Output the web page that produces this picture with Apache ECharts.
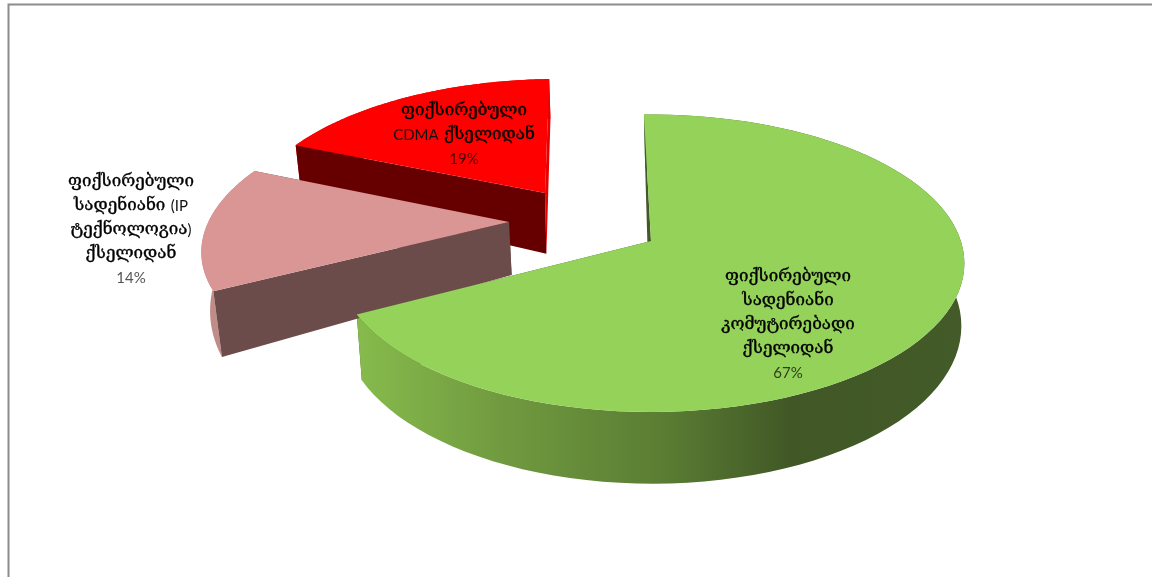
<!DOCTYPE html>
<html><head><meta charset="utf-8">
<style>html,body{margin:0;padding:0;background:#fff}#c{width:1152px;height:577px}</style>
<script src="https://cdn.jsdelivr.net/npm/echarts@6/dist/echarts.min.js"></script>
</head><body><div id="c"></div>
<script>
// data
var names = [
  "ფიქსირებული\nსადენიანი\nკომუტირებადი\nქსელიდან",
  "ფიქსირებული\nსადენიანი (IP\nტექნოლოგია)\nქსელიდან",
  "ფიქსირებული\nCDMA ქსელიდან"
];
var values = [67, 14, 19];
// style and layout
var topColors = ["#94d25a", "#d99694", "#ff0000"];
var wallColors = ["#44592a", "#6b4c4a", "#660000"];
var outerColors = [null, "#c08c88", "#e60000"];
var labelAnchors = [[788, 265], [131, 170], [464, 99]];
var percentColors = ["#2f3d1c", "#555555", "#4a0000"];
var worldOffsets = [[0, 0], [-0.465, 0.133], [-0.358, 0.346]];
var radii = [0.995, 0.985, 0.985];
var angleNudge = [[-1.5, 0.8], [1, 1.3], [1.2, -2]];
var depthA = [47, 11.7, 25], depthS = [0.06, 0.186, 0.186];
var perspX = [738, 640, 620], perspF = [0.0133, 0.02, 0.018], innerShift = [-3, 0, 0];
var ox = 651, oy = 241, A = 311.4, B = 146.1, K = 0.1505;

function proj(X, Y) {
  var w = 1 + K * Y;
  return [ox + A * X / w, oy - B * Y / w];
}
function low(p, i) {
  var d = depthA[i] + depthS[i] * p[1];
  return [p[0] + (perspX[i] - p[0]) * perspF[i], p[1] + d];
}
function arc(i, a0, a1) {
  var pts = [], n = 90, off = worldOffsets[i], r = radii[i];
  for (var s = 0; s <= n; s++) {
    var t = (a0 + (a1 - a0) * s / n) * Math.PI / 180;
    pts.push(proj(off[0] + r * Math.sin(t), off[1] + r * Math.cos(t)));
  }
  return pts;
}
var total = values.reduce(function (a, b) { return a + b; }, 0);
function angles(i) {
  var sum = 0;
  for (var j = 0; j < i; j++) sum += values[j];
  return [sum / total * 360 + angleNudge[i][0], (sum + values[i]) / total * 360 + angleNudge[i][1]];
}
function poly(points, fill, z) {
  return { type: 'polygon', z2: z, shape: { points: points }, style: { fill: fill, stroke: null } };
}
function markup(s) {
  return s.replace(/[A-Za-z0-9()]+/g, function (m) { return "{l|" + m + "}"; });
}
function renderSlice(params, api) {
  var i = api.value(0), ang = angles(i), c = arc(i, ang[0], ang[1]);
  var apex = proj(worldOffsets[i][0], worldOffsets[i][1]);
  var first = c[0], last = c[c.length - 1];
  var lowArc = c.map(function (p) { return low(p, i); }).reverse();
  var lowApex = low(apex, i);
  lowApex[0] += innerShift[i];
  var outerFill = outerColors[i];
  if (i === 0) {
    outerFill = new echarts.graphic.LinearGradient(361, 0, 966, 0, [
      { offset: 0, color: '#86ba4c' },
      { offset: 0.24, color: '#70993f' },
      { offset: 0.5, color: '#5a7d33' },
      { offset: 0.71, color: '#415826' },
      { offset: 1, color: '#435b28' }
    ], true);
  }
  var backFill = i === 2 ? outerColors[2] : wallColors[i];
  return { type: 'group', children: [
    poly([last, apex, lowApex, low(last, i)], backFill, 1),
    poly(c.concat(lowArc), outerFill, 2),
    poly([first, apex, lowApex, low(first, i)], wallColors[i], 3),
    poly(c.concat([apex]), topColors[i], 4),
    { type: 'text', z2: 5, style: {
        x: labelAnchors[i][0], y: labelAnchors[i][1], align: 'center', verticalAlign: 'top',
        text: markup(names[i]) + "\n{p|" + values[i] + "%}",
        font: '17px "DejaVu Serif"', lineHeight: 24, fill: '#000', stroke: '#000', lineWidth: 0.35,
        rich: {
          l: { font: '15px Lato', lineHeight: 24, fill: '#111', stroke: 'none' },
          p: { font: '15px Lato', lineHeight: 24, fill: percentColors[i], stroke: 'none' }
        }
    } }
  ] };
}
var chart = echarts.init(document.getElementById('c'), null, { renderer: 'canvas' });
chart.setOption({
  animation: false,
  backgroundColor: '#ffffff',
  graphic: [{ type: 'rect', shape: { x: 8.5, y: 4.5, width: 1200, height: 700 }, style: { fill: 'none', stroke: '#8c8c8c', lineWidth: 2 }, silent: true, z: -1 }],
  series: [{
    type: 'custom', coordinateSystem: 'none', renderItem: renderSlice, silent: true,
    data: [[2], [1], [0]]
  }]
});
</script></body></html>
